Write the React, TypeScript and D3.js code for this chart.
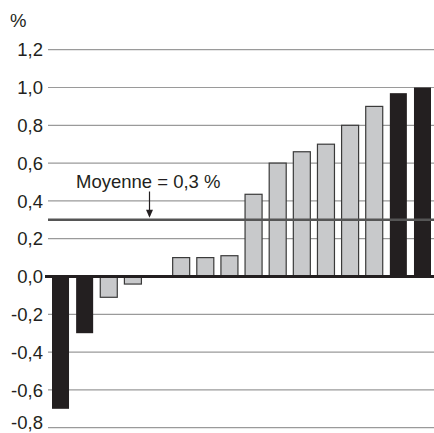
import React from "react";
import * as d3 from "d3";

const categories = ["c1","c2","c3","c4","c5","c6","c7","c8","c9","c10","c11","c12","c13","c14","c15","c16"];
const values = [-0.70, -0.30, -0.11, -0.04, 0, 0.10, 0.10, 0.11, 0.435, 0.60, 0.66, 0.70, 0.80, 0.90, 0.97, 1.00];
const highlighted = [true, true, false, false, false, false, false, false, false, false, false, false, false, false, true, true];
const yTicks = [1.2, 1.0, 0.8, 0.6, 0.4, 0.2, 0.0, -0.2, -0.4, -0.6, -0.8];
const meanValue = 0.3;
const meanLabel = "Moyenne = 0,3 %";
const unitLabel = "%";

const W = 434, H = 433;

export default function App() {
  const y = d3.scaleLinear().domain([-0.8, 1.2]).range([427.7, 49.7]);
  const x = d3.scaleBand<string>().domain(categories).range([48, 435]).paddingInner(0.295).paddingOuter(0.166);
  const fmt = (v: number) => d3.format(".1f")(v).replace(".", ",").replace("−", "-");
  const font = "'Liberation Sans', Arial, Helvetica, sans-serif";
  const ink = "#231f20";
  const fs = 18.5;
  const arrowX = 149.5;
  return (
    <svg width={W} height={H} style={{ position: "absolute", left: 0, top: 0 }} fontFamily={font}>
      <rect x={0} y={0} width={W} height={H} fill="#fff" />
      {yTicks.filter(t => t !== 0).map(t => (
        <line key={t} x1={48} x2={W} y1={y(t)} y2={y(t)} stroke="#9a9a9a" strokeWidth={1.2} />
      ))}
      {yTicks.map(t => (
        <text key={"l" + t} x={43} y={Math.min(y(t), 422.5)} dy="0.36em" textAnchor="end" fontSize={fs} fill={ink}>{fmt(t)}</text>
      ))}
      <text x={10} y={27} fontSize={fs} fill={ink}>{unitLabel}</text>
      {values.map((v, i) => {
        if (v === 0) return null;
        const y0 = y(Math.max(0, v)), y1 = y(Math.min(0, v));
        const hl = highlighted[i];
        return (
          <rect key={i} x={x(categories[i])} y={y0} width={x.bandwidth()} height={y1 - y0}
            fill={hl ? ink : "#c8c9cb"} stroke={hl ? "none" : "#3a3a3a"} strokeWidth={1.2} />
        );
      })}
      <line x1={45} x2={W} y1={y(0)} y2={y(0)} stroke={ink} strokeWidth={3} />
      <line x1={48} x2={W} y1={y(meanValue)} y2={y(meanValue)} stroke="#555" strokeWidth={2.6} />
      <text x={76} y={188.3} fontSize={fs} fill={ink}>{meanLabel}</text>
      <line x1={arrowX} x2={arrowX} y1={191.5} y2={y(meanValue) - 4} stroke={ink} strokeWidth={1.2} />
      <path d={`M${arrowX - 3.5},${y(meanValue) - 10} L${arrowX},${y(meanValue) - 2} L${arrowX + 3.5},${y(meanValue) - 10} Z`} fill={ink} />
    </svg>
  );
}
